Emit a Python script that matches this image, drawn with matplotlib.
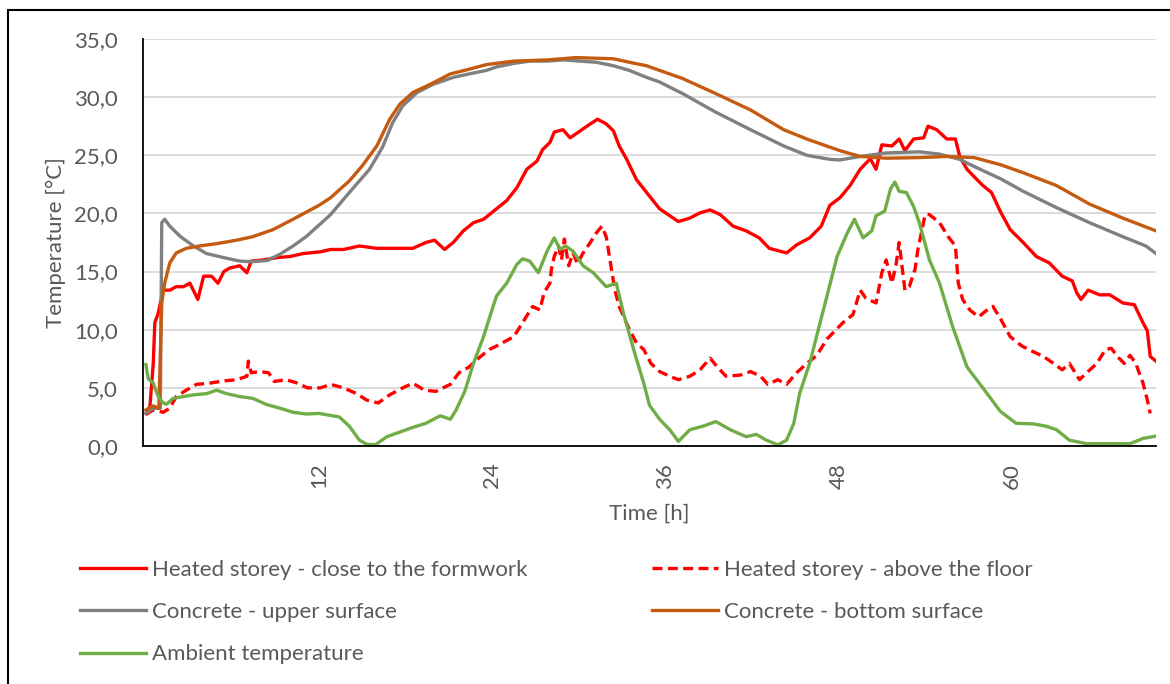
import matplotlib.pyplot as plt
from matplotlib.patches import Rectangle

plt.rcParams['font.family'] = ['Lato', 'DejaVu Sans']

# Heated storey - close to the formwork
t_close = [0, 0.28, 0.51, 0.62, 0.85, 1.2, 1.66, 2.1, 2.6, 3.05, 3.6, 4.0, 4.55, 5.0, 5.4, 5.8,
           6.5, 7.0, 7.3, 8.1, 9.1, 10.0, 10.9, 12.1, 12.8, 13.7, 14.8, 16.0, 17.4, 18.5, 19.4,
           20.0, 20.7, 21.3, 22.0, 22.7, 23.4, 24.1, 25.0, 25.7, 26.4, 27.1, 27.5, 28.0, 28.3,
           28.9, 29.4, 30.1, 30.8, 31.3, 31.9, 32.4, 32.8, 33.3, 34.0, 34.7, 35.6, 36.9, 37.7,
           38.4, 39.1, 39.8, 40.7, 41.6, 42.5, 43.2, 44.4, 45.1, 46.0, 46.8, 47.4, 48.1, 48.8,
           49.5, 50.2, 50.6, 51.0, 51.7, 52.2, 52.6, 53.2, 53.9, 54.2, 54.8, 55.5, 56.1, 56.4,
           56.9, 57.6, 58.0, 58.6, 59.2, 59.9, 60.8, 61.7, 62.6, 63.5, 64.2, 64.5, 64.8, 65.3,
           66.1, 66.8, 67.7, 68.5, 69.1, 69.4, 69.6, 70.0]
v_close = [2.8, 3.4, 7.1, 10.6, 11.4, 13.4, 13.4, 13.7, 13.7, 14.0, 12.6, 14.6, 14.6, 14.0, 15.0, 15.3,
           15.5, 14.9, 15.9, 16.0, 16.2, 16.3, 16.55, 16.7, 16.9, 16.9, 17.2, 17.0, 17.0, 17.0, 17.5,
           17.7, 16.9, 17.5, 18.5, 19.2, 19.5, 20.2, 21.1, 22.2, 23.8, 24.5, 25.5, 26.1, 27.0,
           27.2, 26.5, 27.1, 27.7, 28.1, 27.7, 27.1, 25.8, 24.7, 22.9, 21.8, 20.4, 19.3, 19.6,
           20.05, 20.3, 19.9, 18.9, 18.5, 17.9, 17.0, 16.6, 17.3, 17.9, 18.9, 20.7, 21.35, 22.4,
           23.8, 24.7, 23.8, 25.9, 25.8, 26.4, 25.4, 26.4, 26.5, 27.5, 27.2, 26.4, 26.4, 24.9,
           23.8, 22.9, 22.4, 21.8, 20.2, 18.6, 17.5, 16.3, 15.75, 14.6, 14.2, 13.2, 12.6, 13.4,
           13.0, 13.0, 12.3, 12.15, 10.6, 9.9, 7.7, 7.3]

# Heated storey - above the floor
t_floor = [0, 0.5, 1.2, 1.66, 2.1, 2.8, 3.5, 4.4, 5.4, 6.3, 7.0, 7.1, 7.3, 7.9, 8.5, 8.9, 9.7,
           10.4, 11.2, 12.1, 12.8, 13.7, 14.6, 15.3, 16.1, 16.9, 17.8, 18.5, 19.3, 20.1, 21.1,
           21.7, 22.4, 23.1, 23.8, 24.3, 25.5, 26.1, 26.8, 27.3, 27.6, 28.0, 28.1, 28.3, 28.6,
           28.8, 29.0, 29.3, 29.6, 29.9, 30.3, 30.8, 31.2, 31.6, 31.9, 32.2, 32.5, 32.8, 33.4,
           34.0, 34.5, 35.0, 35.6, 36.3, 36.9, 37.7, 38.4, 39.1, 39.6, 40.2, 41.2, 41.9, 42.6,
           43.1, 43.8, 44.4, 45.1, 45.8, 46.5, 47.2, 48.3, 49.0, 49.5, 49.9, 50.6, 51.0, 51.3,
           51.7, 52.0, 52.2, 52.6, 52.9, 53.3, 53.5, 54.0, 54.3, 55.0, 55.6, 56.1, 56.3, 56.6,
           57.1, 57.7, 58.3, 58.7, 59.2, 59.9, 60.7, 61.5, 62.2, 62.9, 63.5, 64.0, 64.7, 65.2,
           65.9, 66.5, 66.9, 67.4, 67.8, 68.2, 68.6, 69.1, 69.4, 69.6]
v_floor = [2.7, 3.1, 2.9, 3.25, 4.25, 4.8, 5.3, 5.4, 5.6, 5.7, 6.0, 7.3, 6.3, 6.4, 6.3, 5.55, 5.7,
           5.45, 5.0, 5.0, 5.3, 5.0, 4.5, 3.95, 3.7, 4.4, 5.0, 5.4, 4.8, 4.7, 5.3,
           6.3, 6.8, 7.6, 8.3, 8.6, 9.4, 10.6, 12.0, 11.7, 13.2, 14.0, 15.2, 16.3, 17.2,
           16.0, 17.8, 15.5, 16.6, 15.7, 16.6, 17.5, 18.3, 18.9, 18.0, 15.7, 13.4, 12.0, 10.3,
           8.85, 8.3, 7.1, 6.4, 6.0, 5.7, 6.0, 6.55, 7.55, 6.8, 6.0, 6.1, 6.4, 6.0,
           5.3, 5.7, 5.3, 6.3, 7.1, 7.8, 9.2, 10.6, 11.3, 13.4, 12.7, 12.3, 14.9, 16.0,
           14.0, 15.7, 17.5, 13.4, 13.7, 15.2, 16.9, 19.9, 19.9, 19.2, 18.0, 17.2, 14.0, 12.6,
           11.7, 11.1, 11.7, 12.0, 11.0, 9.4, 8.6, 8.1, 7.7, 7.1, 6.55, 7.1, 5.7, 6.3,
           7.1, 8.3, 8.4, 7.6, 7.1, 7.8, 7.1, 5.4, 3.95, 2.8]

# Concrete - upper surface
t_upper = [0, 0.5, 1.0, 1.1, 1.3, 1.66, 2.4, 3.3, 4.2, 5.4, 6.5, 7.4, 8.4, 9.3, 10.2, 11.1,
           12.0, 12.8, 14.1, 15.5, 16.4, 17.1, 17.8, 18.8, 19.9, 21.3, 22.4, 23.6, 24.3, 25.5,
           26.6, 27.8, 28.9, 30.1, 31.2, 32.4, 33.5, 34.7, 35.6, 37.2, 39.5, 41.9, 44.2, 45.8,
           47.4, 48.1, 49.5, 51.3, 53.6, 55.0, 56.4, 57.8, 59.2, 60.8, 63.1, 65.4, 67.7, 69.3, 70.0]
v_upper = [2.8, 3.25, 3.25, 19.2, 19.5, 18.9, 18.0, 17.2, 16.55, 16.2, 15.9, 15.85, 15.95, 16.5, 17.2, 18.0,
           19.0, 19.9, 21.8, 23.8, 25.7, 27.8, 29.25, 30.4, 31.1, 31.7, 32.0, 32.3, 32.6, 32.9,
           33.1, 33.1, 33.2, 33.1, 33.0, 32.7, 32.3, 31.7, 31.3, 30.3, 28.7, 27.2, 25.8, 25.0,
           24.65, 24.6, 24.9, 25.2, 25.3, 25.1, 24.65, 23.8, 23.0, 21.9, 20.5, 19.2, 18.0, 17.2, 16.55]

# Concrete - bottom surface
t_bottom = [0, 0.5, 0.9, 1.1, 1.3, 1.66, 2.1, 2.8, 3.7, 4.9, 6.3, 7.4, 8.8, 10.2, 11.1, 12.0,
            12.8, 14.1, 15.0, 16.0, 16.9, 17.6, 18.5, 19.7, 21.1, 22.4, 23.6, 25.5, 27.8, 29.8,
            32.4, 33.5, 34.7, 35.6, 37.2, 39.5, 41.9, 44.2, 45.8, 47.4, 48.1, 49.5, 51.3, 53.6,
            55.5, 57.4, 59.2, 60.8, 63.1, 65.4, 67.7, 70.0]
v_bottom = [3.1, 3.45, 3.25, 12.3, 14.0, 15.75, 16.6, 17.0, 17.2, 17.4, 17.7, 18.0, 18.6, 19.5, 20.1, 20.7,
            21.35, 22.8, 24.1, 25.8, 28.1, 29.4, 30.4, 31.1, 32.0, 32.4, 32.8, 33.1, 33.2, 33.4,
            33.3, 33.0, 32.7, 32.3, 31.6, 30.3, 28.9, 27.2, 26.4, 25.7, 25.4, 24.9, 24.75, 24.8,
            24.9, 24.8, 24.2, 23.5, 22.4, 20.8, 19.6, 18.5]

# Ambient temperature
t_amb = [0, 0.16, 0.51, 0.85, 1.2, 1.43, 1.89, 2.6, 3.3, 4.2, 4.9, 5.6, 6.5, 7.4, 8.4, 9.3,
         10.2, 11.1, 12.0, 13.4, 14.1, 14.8, 15.3, 15.9, 16.7, 17.6, 18.5, 19.4, 20.4, 21.1,
         21.5, 22.1, 22.7, 23.4, 23.8, 24.3, 25.0, 25.7, 26.1, 26.6, 27.2, 27.8, 28.3, 28.7,
         29.1, 29.6, 30.3, 31.0, 31.9, 32.6, 33.1, 33.8, 34.5, 34.9, 35.6, 36.3, 36.9, 37.7,
         38.6, 39.5, 40.5, 41.6, 42.3, 43.0, 43.8, 44.4, 44.9, 45.3, 46.0, 46.7, 47.2, 47.9,
         48.6, 49.1, 49.7, 50.3, 50.6, 51.2, 51.6, 51.9, 52.2, 52.7, 53.2, 53.6, 54.3, 55.0,
         55.9, 56.9, 58.0, 59.2, 60.3, 61.5, 62.4, 63.1, 64.0, 65.2, 66.6, 68.2, 69.1, 70.0]
v_amb = [7.0, 5.8, 5.4, 4.25, 3.7, 3.6, 4.1, 4.25, 4.4, 4.5, 4.8, 4.5, 4.25, 4.1, 3.55, 3.25,
         2.9, 2.75, 2.8, 2.5, 1.7, 0.5, 0.15, 0.1, 0.8, 1.2, 1.6, 1.95, 2.6, 2.3,
         3.1, 4.7, 7.1, 9.4, 11.0, 12.9, 14.0, 15.6, 16.1, 15.9, 14.9, 16.75, 17.9, 16.9,
         17.2, 16.75, 15.5, 14.9, 13.7, 14.0, 11.4, 8.3, 5.4, 3.5, 2.3, 1.4, 0.4, 1.4,
         1.7, 2.1, 1.4, 0.8, 1.0, 0.5, 0.1, 0.5, 1.95, 4.5, 7.1, 10.5, 12.9, 16.3,
         18.3, 19.5, 17.9, 18.5, 19.8, 20.2, 22.1, 22.7, 21.9, 21.8, 20.6, 19.2, 16.0, 14.0,
         10.3, 6.8, 5.0, 3.0, 1.95, 1.9, 1.7, 1.4, 0.5, 0.2, 0.2, 0.2, 0.65, 0.85]

y_ticks = [0, 5, 10, 15, 20, 25, 30, 35]
x_ticks = [12, 24, 36, 48, 60]

txt = '#595959'
lw = 2.4
fs = 16

fig = plt.figure(figsize=(11.7, 6.84), dpi=100)
ax = fig.add_axes([143 / 1170, 1 - 446 / 684, 1013 / 1170, 407 / 684])

l1, = ax.plot(t_close, v_close, color='#ff0000', lw=lw)
l2, = ax.plot(t_floor, v_floor, color='#ff0000', lw=lw, linestyle=(0, (3, 1.6)))
l3, = ax.plot(t_upper, v_upper, color='#808080', lw=lw)
l4, = ax.plot(t_bottom, v_bottom, color='#c55a11', lw=lw)
l5, = ax.plot(t_amb, v_amb, color='#70ad47', lw=lw)

ax.set_xlim(-0.2, 70)
ax.set_ylim(0, 35)
ax.set_yticks(y_ticks)
ax.set_yticklabels([f'{v:.1f}'.replace('.', ',') for v in y_ticks])
ax.set_xticks(x_ticks)
ax.set_xticklabels([str(v) for v in x_ticks], rotation=90)
ax.tick_params(length=0, labelsize=fs, labelcolor=txt)
ax.tick_params(axis='y', pad=18)
ax.tick_params(axis='x', pad=12)
ax.grid(axis='y', color='#d9d9d9', lw=1.3)
ax.set_axisbelow(True)
for s in ['top', 'right']:
    ax.spines[s].set_visible(False)
for s in ['left', 'bottom']:
    ax.spines[s].set_color('black')
    ax.spines[s].set_linewidth(1.3)

ax.set_xlabel('Time [h]', fontsize=fs, color=txt, labelpad=11)
ax.set_ylabel('Temperature [°C]', fontsize=fs, color=txt, labelpad=6)

# legend: two columns placed separately
kw = dict(frameon=False, fontsize=fs, labelcolor=txt, handlelength=2.95,
          handletextpad=0.3, labelspacing=1.0, borderaxespad=0, borderpad=0)
fig.legend([l1, l3, l5], ['Heated storey - close to the formwork', 'Concrete - upper surface',
                          'Ambient temperature'],
           loc='upper left', bbox_to_anchor=(80 / 1170, 1 - 560 / 684), **kw)
fig.legend([l2, l4], ['Heated storey - above the floor', 'Concrete - bottom surface'],
           loc='upper left', bbox_to_anchor=(652 / 1170, 1 - 560 / 684), **kw)

# outer frame
fig.patches.append(Rectangle((8 / 1170, -0.05), 1.2, 1 - 10 / 684 + 0.05,
                             transform=fig.transFigure, fill=False, ec='black', lw=1.5))

fig.savefig('out.png', dpi=100)
